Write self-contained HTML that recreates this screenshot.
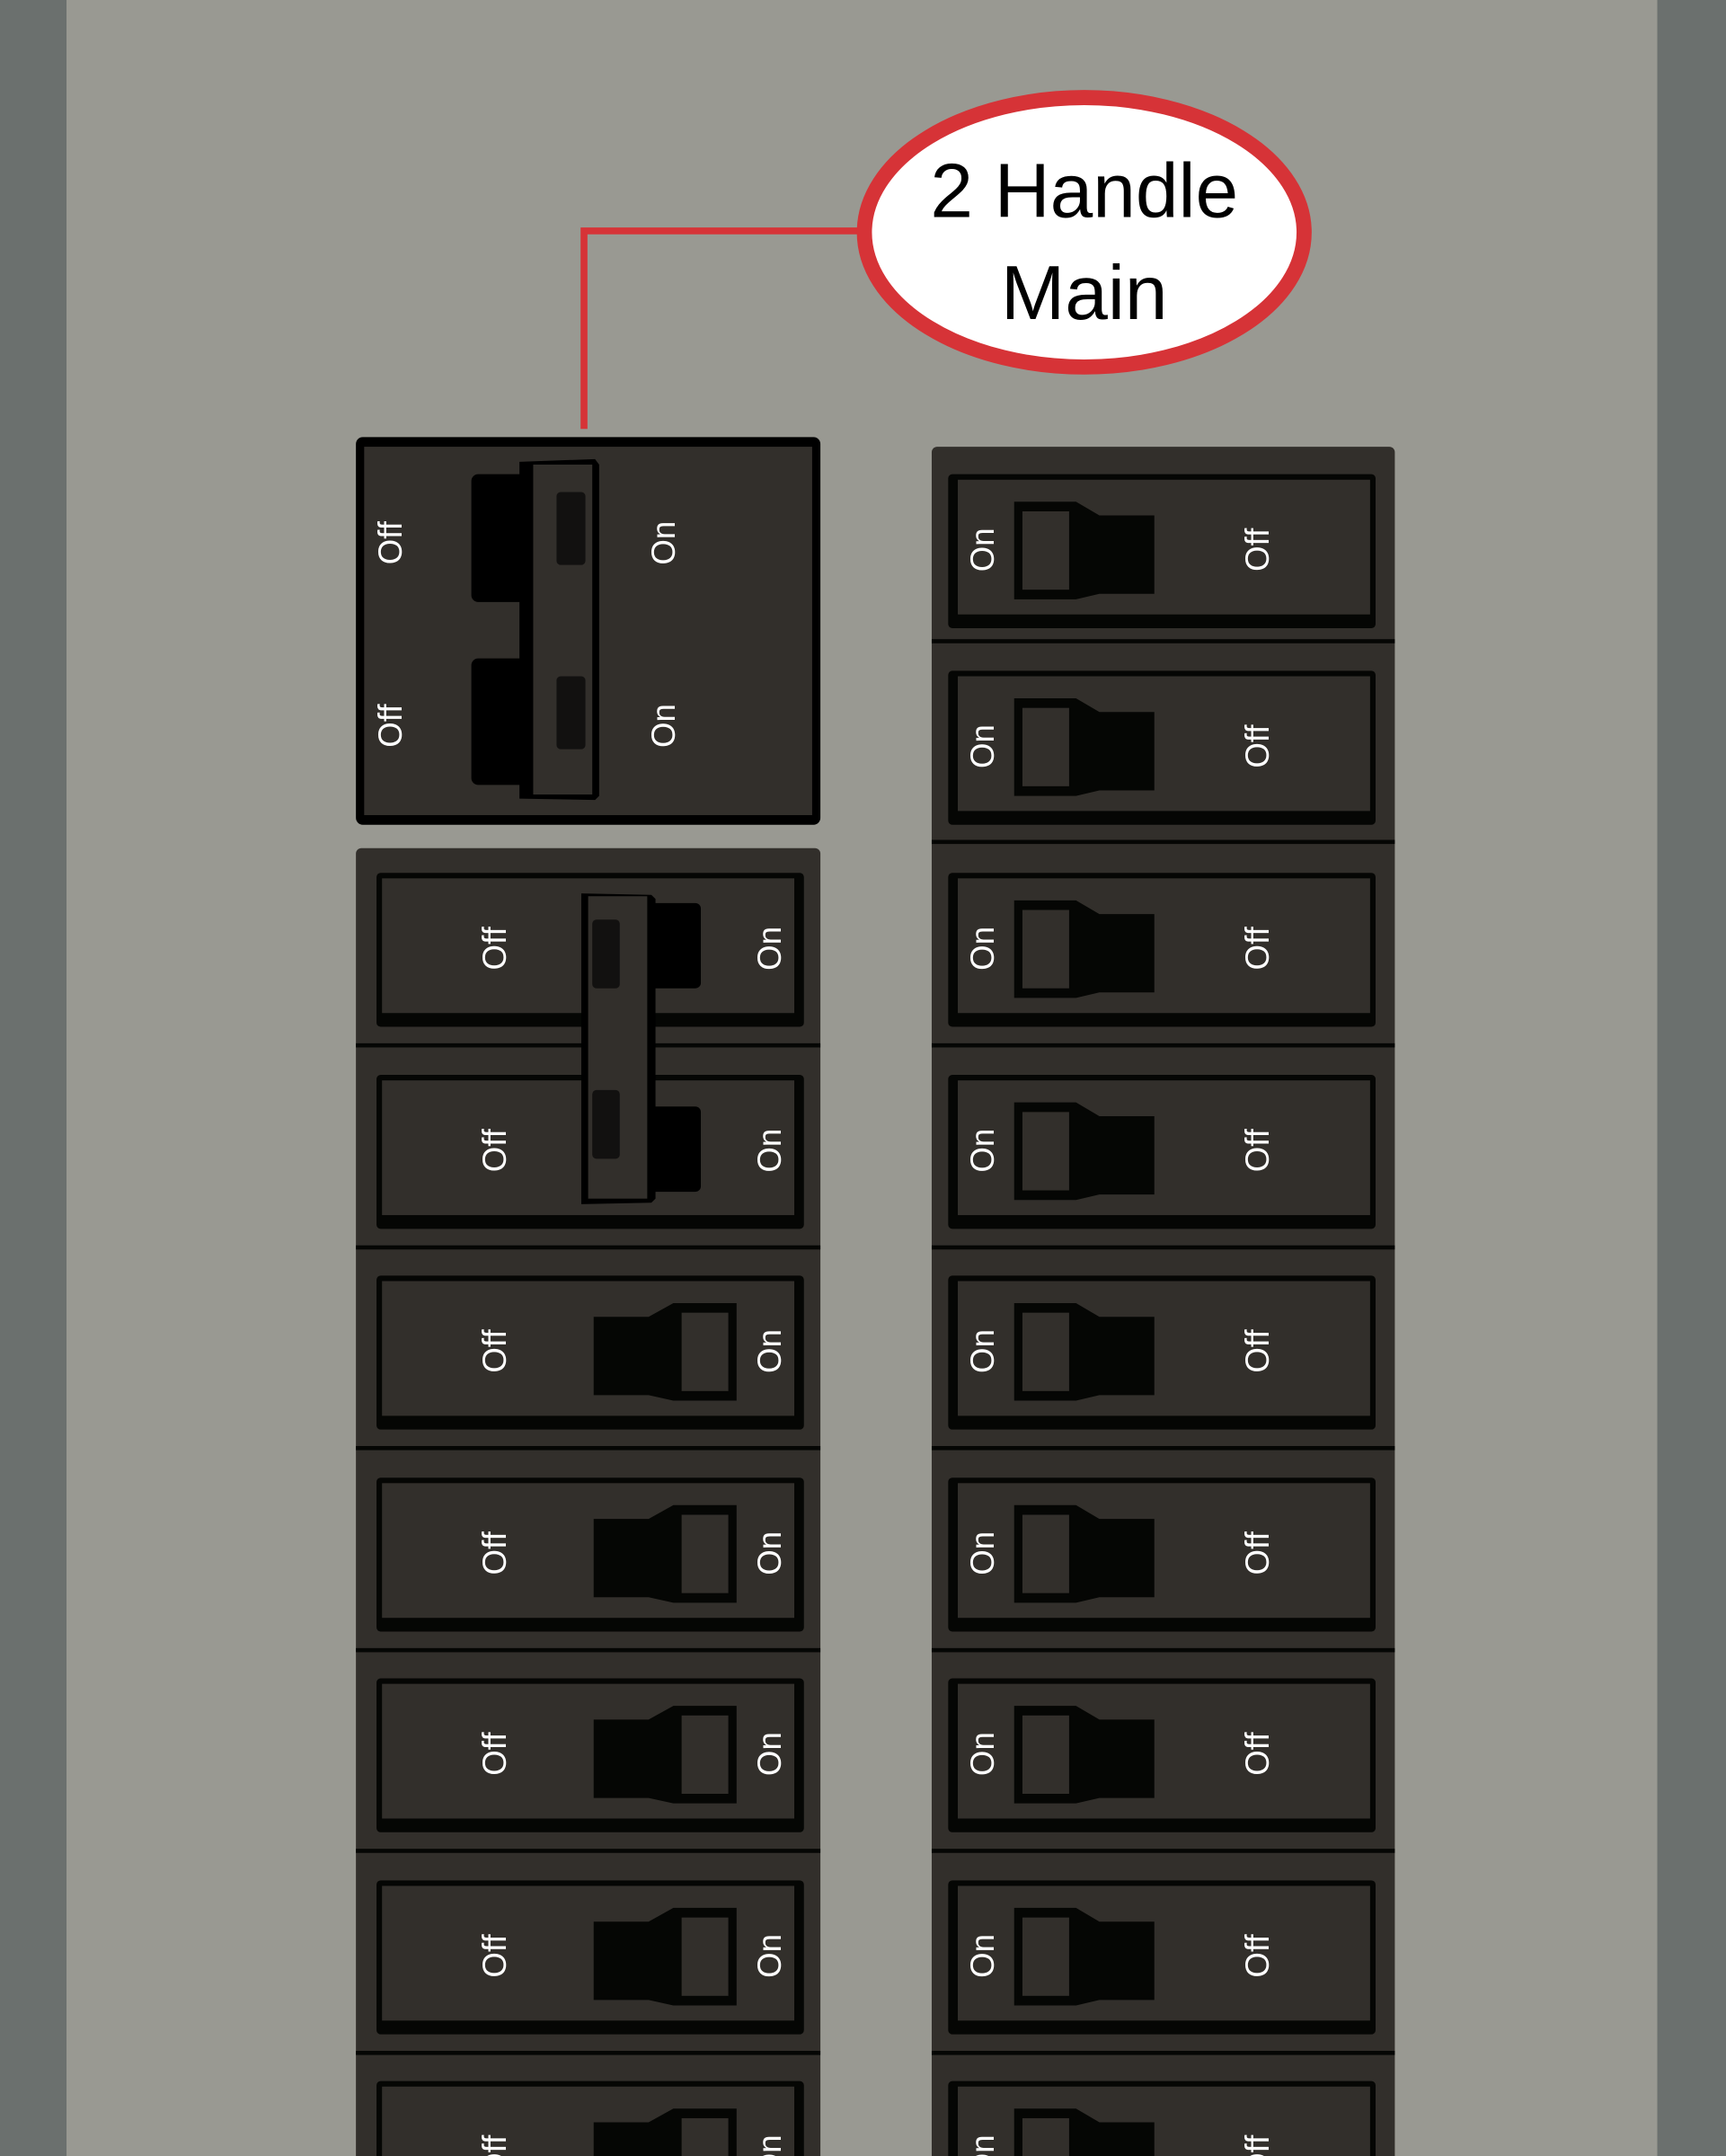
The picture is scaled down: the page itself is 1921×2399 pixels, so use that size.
<!DOCTYPE html>
<html><head><meta charset="utf-8"><style>
html,body{margin:0;padding:0;background:#999992;}
svg{display:block;}
text{font-family:"Liberation Sans",sans-serif;}
.lbl{fill:#fff;font-size:24px;text-anchor:middle;dominant-baseline:central;}
</style></head><body>
<svg width="1921" height="2399" viewBox="0 0 1256 1568.5" preserveAspectRatio="none" xmlns="http://www.w3.org/2000/svg">
<defs>
<g id="rb">
 <rect x="690" y="0" width="311" height="112" rx="3" fill="#050604"/>
 <rect x="697" y="4" width="300" height="98" fill="#322f2b"/>
 <polygon points="738,20 783,20 800,30 840,30 840,87 800,87 783,91 738,91" fill="#050604"/>
 <rect x="744" y="27" width="34" height="57" fill="#322f2b"/>
</g>
<g id="lb">
 <rect x="274" y="0" width="311" height="112" rx="3" fill="#050604"/>
 <rect x="278" y="4" width="300" height="98" fill="#322f2b"/>
 <polygon points="432,30 472,30 490,20 536,20 536,91 490,91 472,87 432,87" fill="#050604"/>
 <rect x="496" y="27" width="34" height="57" fill="#322f2b"/>
</g>
<g id="lbp">
 <rect x="274" y="0" width="311" height="112" rx="3" fill="#050604"/>
 <rect x="278" y="4" width="300" height="98" fill="#322f2b"/>
</g>
</defs>
<rect x="0" y="0" width="1256" height="1568.5" fill="#999992"/>
<rect x="0" y="0" width="48.4" height="1568.5" fill="#6b706e"/>
<rect x="1206" y="0" width="50" height="1568.5" fill="#6b706e"/>

<!-- callout -->
<polyline points="425,312 425,168 628,168" fill="none" stroke="#d63337" stroke-width="5"/>
<ellipse cx="789" cy="169" rx="160" ry="98" fill="#fff" stroke="#d63337" stroke-width="11"/>
<text x="789" y="158" font-size="56" text-anchor="middle" fill="#000">2 Handle</text>
<text x="789" y="232" font-size="56" text-anchor="middle" fill="#000">Main</text>

<!-- main breaker -->
<rect x="259" y="318" width="338" height="282" rx="5" fill="#000"/>
<rect x="265" y="325" width="326" height="268" fill="#322f2b"/>
<rect x="343" y="345" width="50" height="93" rx="5" fill="#000"/>
<rect x="343" y="479" width="50" height="92" rx="5" fill="#000"/>
<polygon points="378,336 433,334 436,338 436,579 433,582 378,581 378,336" fill="#000"/>
<rect x="388" y="338" width="43" height="240" fill="#322f2b"/>
<rect x="405" y="358" width="21" height="53" rx="3" fill="#121110"/>
<rect x="405" y="492" width="21" height="53" rx="3" fill="#121110"/>
<text class="lbl" transform="translate(284,395) rotate(-90)">Off</text>
<text class="lbl" transform="translate(284,528) rotate(-90)">Off</text>
<text class="lbl" transform="translate(483,395) rotate(-90)">On</text>
<text class="lbl" transform="translate(483,528) rotate(-90)">On</text>

<!-- left panel -->
<rect x="259" y="617" width="338" height="960" rx="4" fill="#322f2b"/>
<g fill="#050604">
<rect x="259" y="759" width="338" height="3"/>
<rect x="259" y="906" width="338" height="3"/>
<rect x="259" y="1052" width="338" height="3"/>
<rect x="259" y="1199" width="338" height="3"/>
<rect x="259" y="1345" width="338" height="3"/>
<rect x="259" y="1492" width="338" height="3"/>
</g>
<use href="#lbp" y="635"/>
<use href="#lbp" y="782"/>
<use href="#lb" y="928"/>
<use href="#lb" y="1075"/>
<use href="#lb" y="1221"/>
<use href="#lb" y="1368"/>
<use href="#lb" y="1514"/>
<!-- tandem handle -->
<rect x="470" y="657" width="40" height="62" rx="4" fill="#000"/>
<rect x="470" y="805" width="40" height="62" rx="4" fill="#000"/>
<polygon points="423,650 474,651 477,654 477,872 474,875 423,876" fill="#000"/>
<rect x="428" y="652" width="43" height="220" fill="#322f2b"/>
<rect x="431" y="669" width="20" height="50" rx="3" fill="#121110"/>
<rect x="431" y="793" width="20" height="50" rx="3" fill="#121110"/>

<g>
<text class="lbl" transform="translate(360,690) rotate(-90)">Off</text>
<text class="lbl" transform="translate(560,690) rotate(-90)">On</text>
<text class="lbl" transform="translate(360,837) rotate(-90)">Off</text>
<text class="lbl" transform="translate(560,837) rotate(-90)">On</text>
<text class="lbl" transform="translate(360,983) rotate(-90)">Off</text>
<text class="lbl" transform="translate(560,983) rotate(-90)">On</text>
<text class="lbl" transform="translate(360,1130) rotate(-90)">Off</text>
<text class="lbl" transform="translate(560,1130) rotate(-90)">On</text>
<text class="lbl" transform="translate(360,1276) rotate(-90)">Off</text>
<text class="lbl" transform="translate(560,1276) rotate(-90)">On</text>
<text class="lbl" transform="translate(360,1423) rotate(-90)">Off</text>
<text class="lbl" transform="translate(560,1423) rotate(-90)">On</text>
<text class="lbl" transform="translate(360,1569) rotate(-90)">Off</text>
<text class="lbl" transform="translate(560,1569) rotate(-90)">On</text>
</g>

<!-- right panel -->
<rect x="678" y="325" width="337" height="1260" rx="4" fill="#322f2b"/>
<g fill="#050604">
<rect x="678" y="465" width="337" height="3"/>
<rect x="678" y="611" width="337" height="3"/>
<rect x="678" y="759" width="337" height="3"/>
<rect x="678" y="906" width="337" height="3"/>
<rect x="678" y="1052" width="337" height="3"/>
<rect x="678" y="1199" width="337" height="3"/>
<rect x="678" y="1345" width="337" height="3"/>
<rect x="678" y="1492" width="337" height="3"/>
</g>
<use href="#rb" y="345"/>
<use href="#rb" y="488"/>
<use href="#rb" y="635"/>
<use href="#rb" y="782"/>
<use href="#rb" y="928"/>
<use href="#rb" y="1075"/>
<use href="#rb" y="1221"/>
<use href="#rb" y="1368"/>
<use href="#rb" y="1514"/>
<g>
<text class="lbl" transform="translate(715,400) rotate(-90)">On</text>
<text class="lbl" transform="translate(915,400) rotate(-90)">Off</text>
<text class="lbl" transform="translate(715,543) rotate(-90)">On</text>
<text class="lbl" transform="translate(915,543) rotate(-90)">Off</text>
<text class="lbl" transform="translate(715,690) rotate(-90)">On</text>
<text class="lbl" transform="translate(915,690) rotate(-90)">Off</text>
<text class="lbl" transform="translate(715,837) rotate(-90)">On</text>
<text class="lbl" transform="translate(915,837) rotate(-90)">Off</text>
<text class="lbl" transform="translate(715,983) rotate(-90)">On</text>
<text class="lbl" transform="translate(915,983) rotate(-90)">Off</text>
<text class="lbl" transform="translate(715,1130) rotate(-90)">On</text>
<text class="lbl" transform="translate(915,1130) rotate(-90)">Off</text>
<text class="lbl" transform="translate(715,1276) rotate(-90)">On</text>
<text class="lbl" transform="translate(915,1276) rotate(-90)">Off</text>
<text class="lbl" transform="translate(715,1423) rotate(-90)">On</text>
<text class="lbl" transform="translate(915,1423) rotate(-90)">Off</text>
<text class="lbl" transform="translate(715,1569) rotate(-90)">On</text>
<text class="lbl" transform="translate(915,1569) rotate(-90)">Off</text>
</g>
</svg>
</body></html>
